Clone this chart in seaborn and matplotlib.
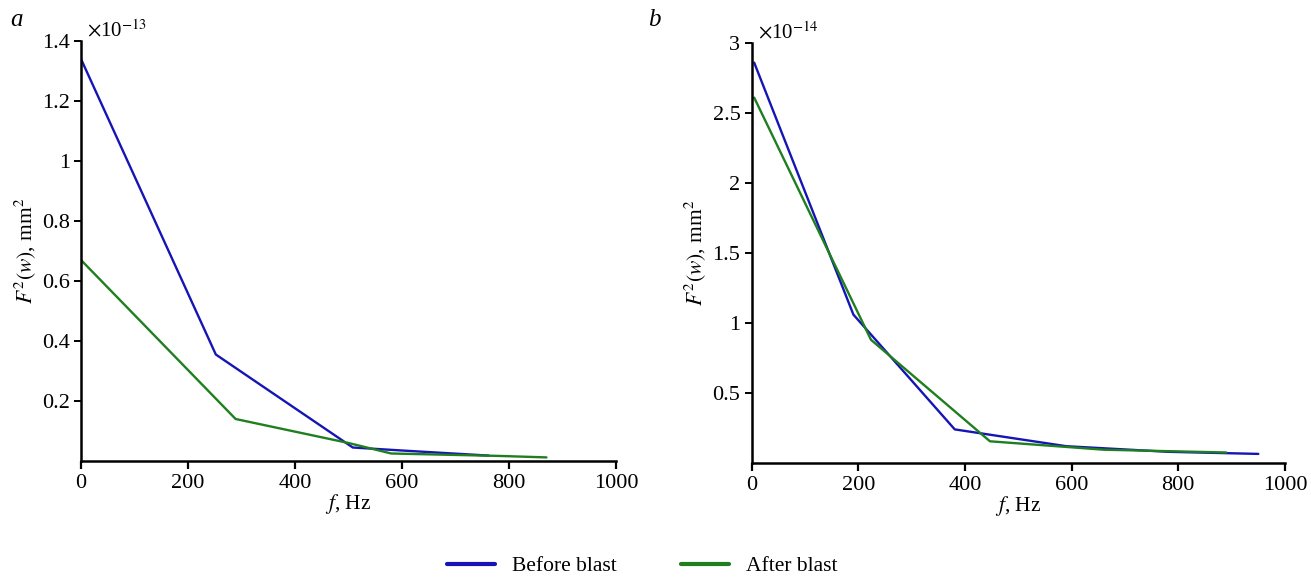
import matplotlib
matplotlib.use("Agg")
import matplotlib.pyplot as plt
from matplotlib.lines import Line2D
import numpy as np
import pandas as pd
import seaborn as sns

# panel a, values in units of 1e-13 mm^2
freq_a_before = [0, 252, 508, 600, 762]
amp_a_before = [1.34, 0.355, 0.045, 0.035, 0.018]
freq_a_after = [0, 289, 500, 580, 780, 870]
amp_a_after = [0.67, 0.14, 0.06, 0.025, 0.017, 0.012]

# panel b, values in units of 1e-14 mm^2
freq_b_before = [5, 191, 381, 590, 780, 950]
amp_b_before = [2.86, 1.06, 0.24, 0.12, 0.08, 0.065]
freq_b_after = [5, 224, 447, 660, 890]
amp_b_after = [2.61, 0.88, 0.155, 0.095, 0.075]

series_names = ["Before blast", "After blast"]
colors = {"Before blast": "#1515b5", "After blast": "#1f7f1f"}

x_ticks = [0, 200, 400, 600, 800, 1000]
y_ticks_a = [0.2, 0.4, 0.6, 0.8, 1.0, 1.2, 1.4]
y_ticks_b = [0.5, 1.0, 1.5, 2.0, 2.5, 3.0]

sns.set_theme(style="ticks")
plt.rcParams.update({
    "font.family": ["Liberation Serif", "DejaVu Serif"],
    "mathtext.fontset": "stix",
    "font.size": 16,
    "text.color": "black",
    "axes.labelcolor": "black",
    "axes.linewidth": 1.8,
    "xtick.major.width": 1.6,
    "ytick.major.width": 1.4,
    "xtick.major.size": 6,
    "ytick.major.size": 5,
    "xtick.major.pad": 3,
    "ytick.major.pad": 3,
    "xtick.labelsize": 16,
    "ytick.labelsize": 16,
    "axes.edgecolor": "black",
    "xtick.color": "black",
    "ytick.color": "black",
})


def make_frame(fb, ab, fa, aa):
    return pd.concat([
        pd.DataFrame({"f": fb, "amp": ab, "series": series_names[0]}),
        pd.DataFrame({"f": fa, "amp": aa, "series": series_names[1]}),
    ], ignore_index=True)


df_a = make_frame(freq_a_before, amp_a_before, freq_a_after, amp_a_after)
df_b = make_frame(freq_b_before, amp_b_before, freq_b_after, amp_b_after)

fig = plt.figure(figsize=(13.11, 5.77), dpi=100)
ax_a = fig.add_axes([81 / 1311, 116 / 577, 535 / 1311, 420 / 577])
ax_b = fig.add_axes([751.5 / 1311, 114 / 577, 533.5 / 1311, 420 / 577])


def fmt(v):
    return "%g" % v


for ax, df, yt, ymax, expo in [
    (ax_a, df_a, y_ticks_a, 1.4, "-13"),
    (ax_b, df_b, y_ticks_b, 3.0, "-14"),
]:
    sns.lineplot(data=df, x="f", y="amp", hue="series", palette=colors,
                 sort=False, estimator=None, linewidth=1.7, ax=ax, legend=False)
    ax.set_xlim(0, 1000)
    ax.set_ylim(0, ymax)
    ax.set_xticks(x_ticks)
    ax.set_xticklabels([fmt(v) for v in x_ticks])
    ax.set_yticks(yt)
    ax.set_yticklabels([fmt(v) for v in yt])
    ax.set_xlabel(r"$f$, Hz", fontsize=15.5, labelpad=0)
    ax.set_ylabel(r"$F^2(w)$, mm$^2$", fontsize=15.5, labelpad=3)
    ax.text(0.012, 1.0, r"$\times$10$^{%s}$" % expo, transform=ax.transAxes,
            ha="left", va="bottom", fontsize=15)
    sns.despine(ax=ax)

fig.text(10 / 1311, 1 - 20 / 577, "a", fontsize=18, style="italic", ha="left", va="center")
fig.text(648 / 1311, 1 - 20 / 577, "b", fontsize=18, style="italic", ha="left", va="center")

handles = [Line2D([0], [0], color=colors[n], lw=3) for n in series_names]
fig.legend(handles, series_names, loc="center", bbox_to_anchor=(0.49, 1 - 566 / 577),
           ncol=2, frameon=False, fontsize=15.5, handlelength=2.2,
           columnspacing=3.0, handletextpad=0.8)

fig.savefig("out.png", dpi=100, facecolor="white")
